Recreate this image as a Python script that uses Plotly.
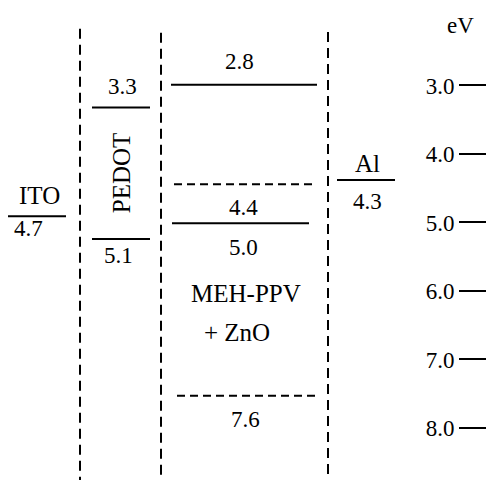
import plotly.graph_objects as go

# ---- data (energies in eV) ----
level_labels = ["4.7", "3.3", "5.1", "2.8", "4.4", "5.0", "7.6", "4.3"]
level_drawn = [4.91, 3.32, 5.24, 2.99, 4.44, 5.01, 7.53, 4.38]   # where each level is drawn on the eV scale
level_owner = ["ITO", "PEDOT", "PEDOT", "MEH-PPV", "MEH-PPV", "MEH-PPV", "MEH-PPV", "Al"]
scale_ticks = [3.0, 4.0, 5.0, 6.0, 7.0, 8.0]
scale_unit = "eV"

# ---- layout / style ----
W, H = 486, 483
Y_TOP, Y_BOT = 1.752, 8.803          # eV at the top / bottom edge of the plot
FONT = "Liberation Serif"
FS = 23
FS_WORD = 25

# x extents of each level line, dash style, label pixel offset, label x
level_x = [(8, 66), (92, 150), (92, 150), (171, 317), (174, 314), (172, 309), (177, 317), (337, 395)]
level_dash = ["solid", "solid", "solid", "solid", "8px,5px", "solid", "8px,5px", "solid"]
label_off = [12, -21, 17, -23, 23, 24, 24, 21]      # px below(+)/above(-) the line
label_x = [28, 122, 118, 239, 243, 243, 245, 367]

fig = go.Figure()

# column separators
for xc, top in [(80, 2.17), (161, 2.23), (328, 2.22)]:
    fig.add_trace(go.Scatter(x=[xc, xc], y=[top, 8.76], mode="lines",
                             line=dict(color="black", width=2, dash="10px,6px"),
                             hoverinfo="skip", showlegend=False))

# energy levels
for lab, e, (x0, x1), d in zip(level_labels, level_drawn, level_x, level_dash):
    fig.add_trace(go.Scatter(x=[x0, x1], y=[e, e], mode="lines",
                             line=dict(color="black", width=2, dash=d),
                             hoverinfo="skip", showlegend=False, name=lab))

tf = dict(family=FONT, size=FS, color="black")
wf = dict(family=FONT, size=FS_WORD, color="black")
anns = []
for lab, e, off, lx in zip(level_labels, level_drawn, label_off, label_x):
    anns.append(dict(x=lx, y=e, text=lab, showarrow=False, yshift=-off,
                     xanchor="center", yanchor="middle", font=tf))

# material names
anns += [
    dict(x=39, y=level_drawn[0], yshift=21, text="ITO", showarrow=False, font=wf),
    dict(x=367, y=level_drawn[7], yshift=17, text="Al", showarrow=False, font=wf),
    dict(x=121, y=4.28, text="PEDOT", textangle=-90, showarrow=False, font=wf),
    dict(x=246, y=6.03, text="MEH-PPV", showarrow=False, font=wf),
    dict(x=237, y=6.61, text="+ ZnO", showarrow=False, font=wf),
    dict(x=460, y=2.12, text=scale_unit, showarrow=False, font=tf),
]

fig.update_layout(
    width=W, height=H, margin=dict(l=0, r=0, t=0, b=0),
    paper_bgcolor="white", plot_bgcolor="white",
    showlegend=False, annotations=anns,
    xaxis=dict(range=[0, W], visible=False, fixedrange=True),
    yaxis=dict(range=[Y_BOT, Y_TOP], side="right", showgrid=False, zeroline=False,
               showline=False, tickvals=scale_ticks, tickformat=".1f",
               ticks="inside", ticklen=27, tickwidth=2, tickcolor="black",
               ticklabelposition="inside", ticklabelstandoff=6,
               tickfont=tf, fixedrange=True),
)

fig.write_html("out.html", config={"displayModeBar": False},
               post_script="document.body.style.margin='0px';document.body.style.overflow='hidden';")
